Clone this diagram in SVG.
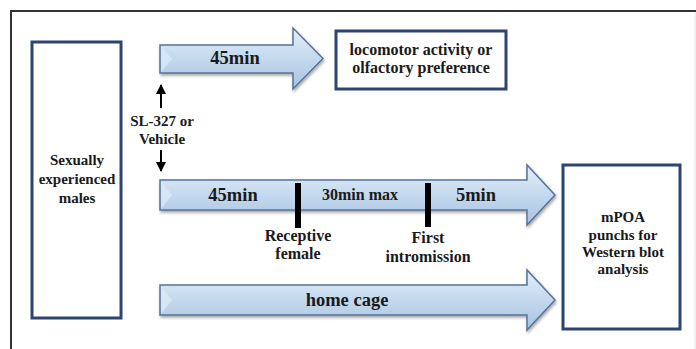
<svg xmlns="http://www.w3.org/2000/svg" width="696" height="349" viewBox="0 0 696 349">
<defs>
<linearGradient id="ag" x1="0" y1="0" x2="0" y2="1">
<stop offset="0" stop-color="#e3eef8"/>
<stop offset="0.5" stop-color="#c4d9ee"/>
<stop offset="1" stop-color="#a7c2df"/>
</linearGradient>
<filter id="sh" x="-5%" y="-20%" width="110%" height="150%">
<feDropShadow dx="1" dy="2" stdDeviation="1.5" flood-color="#000" flood-opacity="0.35"/>
</filter>
<marker id="ah" viewBox="0 0 10 10" refX="9" refY="5" markerWidth="5" markerHeight="5" orient="auto">
<path d="M0,0 L10,5 L0,10 z" fill="#000"/>
</marker>
</defs>
<style>
.t{font-family:"Liberation Serif","Times New Roman",serif;font-weight:bold;fill:#1a1a1a;text-anchor:middle}
.s15{font-size:15px}
.s16{font-size:16px}
.s18{font-size:18.5px}
.box{fill:#fff;stroke:#2b4470;stroke-width:3}
.arr{fill:url(#ag);stroke:#56739a;stroke-width:1.5;filter:url(#sh)}
.bev{fill:#dbe8f5;opacity:0.8}
.tick{fill:#000}
.con{stroke:#000;stroke-width:2;fill:none;marker-end:url(#ah)}
</style>
<rect width="696" height="349" fill="#fff"/>
<path d="M11,349 V11 H696" fill="none" stroke="#333" stroke-width="2"/>
<line x1="695" y1="12" x2="695" y2="349" stroke="#e4e4e4" stroke-width="1"/>

<g id="males">
<rect class="box" x="32" y="42" width="89" height="276"/>
<text class="t s15" x="77" y="165">Sexually</text>
<text class="t s15" x="77" y="184">experienced</text>
<text class="t s15" x="77" y="203">males</text>
</g>

<g id="arrow-top">
<path class="arr" d="M160,45 H293 V28 L323,58.5 L293,89 V73 H160 Z"/>
<path class="bev" d="M161,46 L172,59 L161,72 Z"/>
<text class="t s18" x="235" y="64">45min</text>
</g>

<g id="locomotor">
<rect class="box" x="336" y="31" width="170" height="58"/>
<text class="t s16" x="421" y="55">locomotor activity or</text>
<text class="t s16" x="421" y="73">olfactory preference</text>
</g>

<g id="drug">
<text class="t s15" x="162" y="126">SL-327 or</text>
<text class="t s15" x="162" y="144">Vehicle</text>
</g>

<g id="arrow-mid">
<path class="arr" d="M160,180 H527 V165 L555,195 L527,225 V210 H160 Z"/>
<path class="bev" d="M161,181 L172,195 L161,209 Z"/>
<rect class="tick" x="295" y="183" width="6" height="45"/>
<rect class="tick" x="425" y="183" width="6" height="44"/>
<text class="t s18" x="233" y="201">45min</text>
<text class="t s16" x="360" y="200">30min max</text>
<text class="t s18" x="476" y="201">5min</text>
</g>

<g id="receptive">
<text class="t s16" x="298" y="241">Receptive</text>
<text class="t s16" x="298" y="259">female</text>
</g>

<g id="intromission">
<text class="t s16" x="428" y="243">First</text>
<text class="t s16" x="428" y="262">intromission</text>
</g>

<g id="arrow-bot">
<path class="arr" d="M160,285 H527 V270 L555,300 L527,330 V315 H160 Z"/>
<path class="bev" d="M161,286 L172,300 L161,314 Z"/>
<text class="t s18" x="347" y="306">home cage</text>
</g>

<g id="mpoa">
<rect class="box" x="563" y="165" width="117" height="164"/>
<text class="t s15" x="623" y="222">mPOA</text>
<text class="t s15" x="623" y="240">punchs for</text>
<text class="t s15" x="623" y="257">Western blot</text>
<text class="t s15" x="623" y="274">analysis</text>
</g>

<g id="connectors">
<line class="con" x1="161" y1="108" x2="161" y2="85"/>
<line class="con" x1="161" y1="150" x2="161" y2="171"/>
</g>
</svg>
